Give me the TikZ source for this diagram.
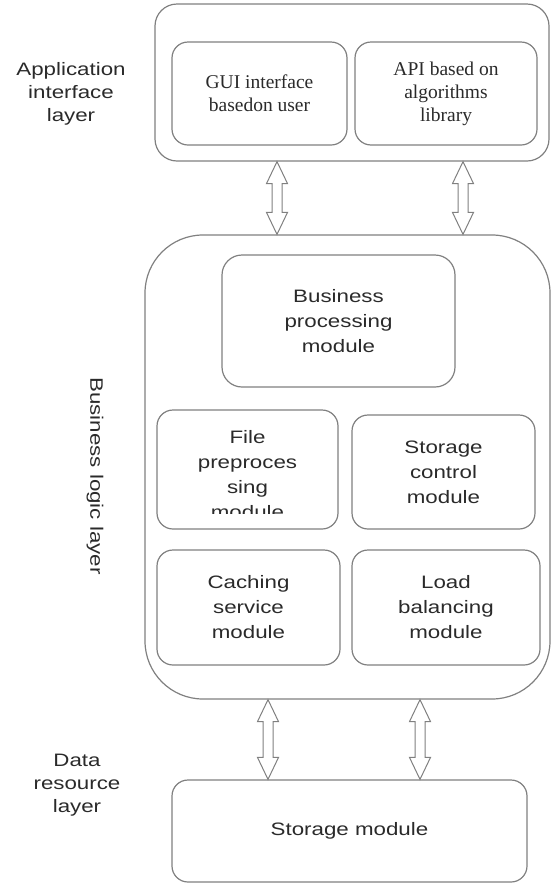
\documentclass[tikz,border=0pt]{standalone}
\usepackage{fontspec}
\setmainfont{Liberation Serif}
\newfontfamily\lsans[FakeStretch=1.24]{Liberation Sans}
\usetikzlibrary{calc}
\definecolor{boxgray}{HTML}{808080}
\definecolor{txt}{HTML}{2A2A2A}
\newcommand\dblarr[2]{%
  \draw[barr] let \p1=#1, \p2=#2 in
    (\x1,\y1) -- (\x1+10.5pt,\y1-22pt) -- (\x1+5pt,\y1-22pt) -- (\x1+5pt,\y2+22pt)
    -- (\x1+10.5pt,\y2+22pt) -- (\x1,\y2) -- (\x1-10.5pt,\y2+22pt) -- (\x1-5pt,\y2+22pt)
    -- (\x1-5pt,\y1-22pt) -- (\x1-10.5pt,\y1-22pt) -- cycle;}
\begin{document}
\begin{tikzpicture}[x=1pt,y=-1pt,
  box/.style={draw=boxgray, line width=1.2pt, rounded corners=#1, inner sep=0pt,
    align=center, text=txt, font=\lsans\fontsize{18}{25}\selectfont},
  box/.default=16pt,
  sbox/.style={box, font=\fontsize{19.5}{23}\selectfont},
  lbl/.style={align=center, text=txt, font=\lsans\fontsize{18}{23}\selectfont},
  barr/.style={draw=boxgray, line width=1pt, fill=white, line join=miter}]
\useasboundingbox (0,0) rectangle (554,884);
% application layer
\node[box=22pt, minimum width=394pt, minimum height=157pt] (app) at (352,82.5) {};
\node[sbox, minimum width=175pt, minimum height=103pt] (gui) at (259.5,93.5) {GUI interface\\basedon user};
\node[sbox, minimum width=182pt, minimum height=103pt] (api) at (446,93.5) {API based on\\algorithms\\library};
% business layer
\node[box=58pt, minimum width=405pt, minimum height=464pt] (biz) at (347.5,467) {};
\node[box=20pt, minimum width=233pt, minimum height=132pt] (bp) at (338.5,321) {Business\\processing\\module};
\node[box, minimum width=181pt, minimum height=119pt] (fp) at (247.5,469.5) {};
\begin{scope}
  \clip (157,405) rectangle (338,513);
  \node[lbl, font=\lsans\fontsize{18}{25}\selectfont] (fptext) at (247.5,474.5) {File\\preproces\\sing\\module};
\end{scope}
\node[box, minimum width=183pt, minimum height=114pt] (sc) at (443.5,472) {Storage\\control\\module};
\node[box, minimum width=183pt, minimum height=115pt] (cs) at (248.5,607.5) {Caching\\service\\module};
\node[box, minimum width=188pt, minimum height=115pt] (lb) at (446,607.5) {Load\\balancing\\module};
% data layer
\node[box, minimum width=355pt, minimum height=102pt] (sm) at (349.5,831) {Storage module};
% labels
\node[lbl] (lapp) at (71,94) {Application\\interface\\layer};
\node[lbl, rotate=-90] (lbiz) at (95,476) {Business logic layer};
\node[lbl] (ldata) at (77,785) {Data\\resource\\layer};
% arrows
\coordinate (c1) at (277,0);
\coordinate (c2) at (463,0);
\coordinate (c3) at (268,0);
\coordinate (c4) at (420,0);
\dblarr{(app.south -| c1)}{(biz.north -| c1)}
\dblarr{(app.south -| c2)}{(biz.north -| c2)}
\dblarr{(biz.south -| c3)}{(sm.north -| c3)}
\dblarr{(biz.south -| c4)}{(sm.north -| c4)}
\end{tikzpicture}
\end{document}
